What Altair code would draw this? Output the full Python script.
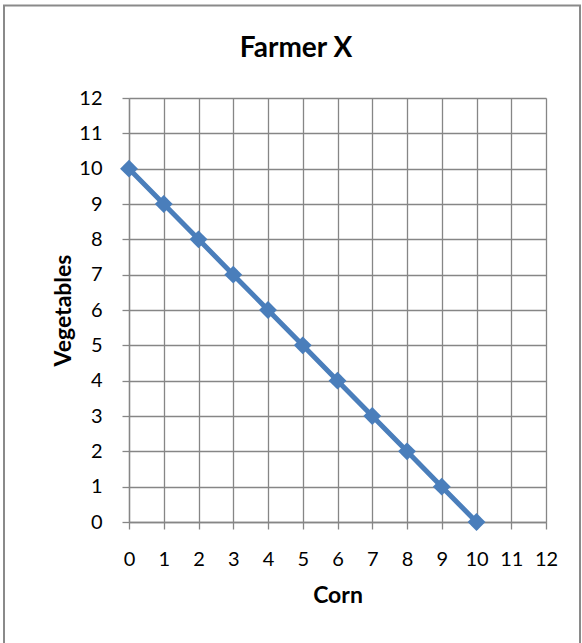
import altair as alt
import pandas as pd

corn = [0, 1, 2, 3, 4, 5, 6, 7, 8, 9, 10]
vegetables = [10, 9, 8, 7, 6, 5, 4, 3, 2, 1, 0]
ticks = list(range(0, 13))
title_text = "Farmer X"

df = pd.DataFrame({"Corn": corn, "Vegetables": vegetables})

FONT = "Lato"
GRID = "#868686"
BLUE = "#4a7ebb"

W, H = 417, 424
PL, PT = 129, 98

axis_common = dict(values=ticks, labelFontSize=20, titleFontSize=23, titleFontWeight="bold",
                   labelFont=FONT, titleFont=FONT, labelColor="black", titleColor="black",
                   labelOverlap=False, labelFlush=False,
                   grid=True, gridColor=GRID, gridWidth=1.3, gridOpacity=1,
                   domainColor=GRID, domainWidth=1.3, tickColor=GRID, tickSize=7, tickWidth=1.3)

x_enc = alt.X("Corn:Q", title="Corn",
              scale=alt.Scale(domain=[0, 12], nice=False, zero=False),
              axis=alt.Axis(titlePadding=15, labelPadding=20, **axis_common))
y_enc = alt.Y("Vegetables:Q", title="Vegetables",
              scale=alt.Scale(domain=[0, 12], nice=False, zero=False),
              axis=alt.Axis(titlePadding=3, labelPadding=20, **axis_common))

base = alt.Chart(df).encode(x=x_enc, y=y_enc)
line = base.mark_line(color=BLUE, strokeWidth=5)
pts = base.mark_point(shape="diamond", filled=True, color=BLUE, size=320, opacity=1)

border = alt.Chart(alt.Data(values=[{}])).mark_rect(
    fill=None, stroke="#8a8a8a", strokeWidth=2).encode(
    x=alt.value(4 - PL), x2=alt.value(580 - PL),
    y=alt.value(5.5 - PT), y2=alt.value(660 - PT))

title = alt.Chart(alt.Data(values=[{"t": title_text}])).mark_text(
    font=FONT, fontSize=28, fontWeight="bold", color="black",
    align="center", baseline="alphabetic").encode(
    text="t:N", x=alt.value(296 - PL), y=alt.value(57 - PT))

chart = alt.layer(line, pts, border, title).properties(
    width=W, height=H,
    autosize=alt.AutoSizeParams(type="none"),
    padding={"left": PL, "top": PT, "right": 582 - PL - W, "bottom": 643 - PT - H},
).configure_view(stroke=GRID, strokeWidth=1.3).configure(background="white")

chart.save("out.html", embed_options={"renderer": "svg", "actions": False})
